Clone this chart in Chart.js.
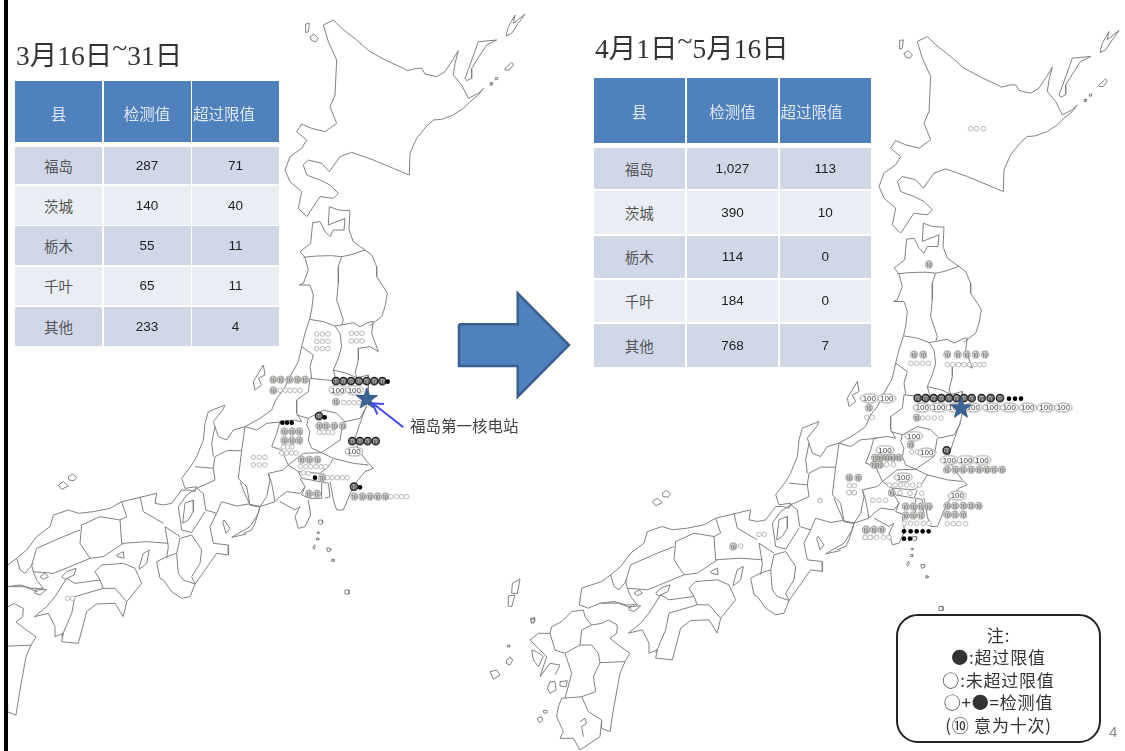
<!DOCTYPE html>
<html><head><meta charset="utf-8">
<script src="https://cdn.jsdelivr.net/npm/chart.js@4/dist/chart.umd.min.js"></script>
<style>
html,body{margin:0;padding:0;background:#fff;width:1125px;height:751px;overflow:hidden}
#page{position:relative;width:1125px;height:751px;filter:blur(.55px);font-family:"Noto Sans CJK SC",sans-serif;color:#444}
canvas{position:absolute;left:0;top:0}
.bar{position:absolute;left:4px;top:0;width:3.5px;height:751px;background:#000}
.title{position:absolute;font-family:"Liberation Serif","Noto Sans CJK SC",serif;font-size:27.5px;line-height:32px;color:#333;white-space:nowrap}
.title span{position:relative;top:-8px}
.cell{position:absolute;display:flex;align-items:center;justify-content:center;box-sizing:border-box;white-space:nowrap}
.head{background:#4f81bd;color:#dfe8f3;font-size:15.5px;padding-top:2px}
.wide{justify-content:flex-start;padding-left:1px}
.odd{background:#d0d8e8}.even{background:#e9edf4}
.lab{color:#555;font-size:14.5px}.num{font-family:"Liberation Sans",sans-serif;color:#222;font-size:13.5px}
.site{position:absolute;left:410px;top:414px;font-size:15.5px;line-height:22px;color:#444;white-space:nowrap}
.note{position:absolute;left:896px;top:614px;width:205px;height:129px;box-sizing:border-box;border:2px solid #222;border-radius:22px;background:#fff;text-align:center;font-size:17px;line-height:22.4px;letter-spacing:.8px;padding-top:8px;color:#333}
.pg{position:absolute;left:1109px;top:722px;font-family:"Liberation Sans",sans-serif;font-size:15px;line-height:20px;color:#888}
</style></head>
<body><div id="page"><canvas id="map" width="1125" height="751"></canvas><div class="bar"></div></div>
<script>
/* ---------- table content ---------- */
const tableHeader = ["县", "检测值", "超过限值"];
const prefectures = ["福岛", "茨城", "栃木", "千叶", "其他"];
const marchDetected = ["287", "140", "55", "65", "233"];
const marchExceeded = ["71", "40", "11", "11", "4"];
const aprilDetected = ["1,027", "390", "114", "184", "768"];
const aprilExceeded = ["113", "10", "0", "0", "7"];
const noteLines = ["注:", "●:超过限值", "○:未超过限值", "○+●=检测值", "(⑩ 意为十次)"];

/* ---------- map outlines, flat x,y lists, each group in its own survey frame ---------- */
const frameNorth = [270, 0], frameKanto = [240, 350], frameWest = [0, 380], frameKyushu = [-64, 473.5], frameOuter = [-114, 543.5];
const northLines = [
 [160,75,190,60,215,85,260,120,300,155,350,182,400,205,412,212,440,205,455,205,465,222,500,230,525,215,548,180,565,152,555,190,550,225,575,255,595,295,625,280,640,265,625,285,600,305,580,325,550,345,515,358,490,360,470,378,440,415,420,460,418,525,370,505,310,480,245,457,210,470,178,515,155,490,115,480,100,495,110,525,150,540,180,555,205,580,190,595,150,590,130,620,110,650,85,625,95,575,60,545,45,510,60,470,95,445,110,420,80,395,95,372,125,385,165,395,200,370,180,320,195,285,200,180,175,125,160,75],
 [107,72,118,70,115,95,107,98,107,72],
 [120,110,132,103,145,115,138,125,125,122,120,110],
 [585,235,600,195,625,125,680,120,650,135,630,165,605,205,605,235,590,242,585,235],
 [708,108,715,80,735,45,730,70,765,42,745,70,725,100,708,108],
 [705,205,725,187,730,195,718,210,705,210,705,205],
 [660,248,668,248,666,255,660,255,660,248],
 [676,233,684,233,682,239,676,239,676,233],
 [90,755,122,730,128,668,150,665,165,695,180,710,190,690,222,690,225,655,175,675,178,620,205,630,240,632,237,690,250,725,285,750],
 [100,772,140,768,185,767,215,770,240,765,285,750],
 [285,750,305,765,320,800,320,830,340,860,352,880,345,920,335,950,315,965,300,978],
 [215,770,205,800,205,850,200,900,220,960,215,975],
 [90,755,105,772,115,810,100,850,88,855,120,855,130,885,125,930,118,960,105,1000,95,1040,85,1085,60,1130],
 [118,958,160,965,195,978,210,1000,215,1040,205,1075,190,1110,198,1140],
 [195,978,215,975,250,968,270,980,300,965,310,965,305,1000,325,1055,300,1040,265,1045,265,1080,255,1120,265,1140],
 [95,1040,130,1065,120,1100,125,1135],
 [190,1110,230,1120,265,1135]
];
const kantoLines = [
 [40,95,70,45,75,75,55,85,65,105,45,120,40,95],
 [210,85,280,92,345,85,385,75,385,140,378,170,360,220,345,265,355,300,385,340,400,355,375,365,350,395,335,420,310,480,290,480,280,450,275,420,270,395],
 [210,85,205,125,170,150,170,190,185,215],
 [170,195,205,205,250,180,290,190,315,215,360,205,380,170],
 [205,205,200,225,210,245,205,270,215,295,245,308,300,270,310,215],
 [245,308,280,325,340,340,385,345],
 [185,215,160,210,120,215,110,250,95,290,125,300,145,345],
 [145,345,190,310,245,308],
 [145,345,175,365,240,370,265,350,280,325],
 [175,365,185,385,240,395,250,370],
 [85,370,130,360,145,345],
 [85,370,95,400,105,455,120,440,140,425,180,430,195,410,180,385],
 [195,410,185,435,210,445,245,445,245,395,265,400,270,440,255,445],
 [105,455,60,470,55,470,30,465,10,420,0,395],
 [60,470,45,520,35,540,10,550],
 [120,455,165,480,180,470,165,500,175,535,195,530,212,495,205,450]
];
const kantoIslands = [[236,510,246,510,248,520,240,524,234,518,236,510],[232,546,237,546,237,550,232,550,232,546],[230,564,236,564,236,570,230,570,230,564],[218,594,224,584,226,590,222,598,218,594],[260,594,270,594,272,602,264,606,260,594],[275,628,282,628,282,634,275,634,275,628]];
const westLines = [
 [870,-10,850,30,830,55,815,90,780,115,735,140,700,150,680,180,655,170,645,140,640,125,668,90,675,75,625,95,615,130,610,180,590,230,575,255,545,295,555,325,590,320,585,335,565,330,545,330,515,370,490,375,465,370,470,340,420,352,365,365,330,385,280,395,235,400,205,390,160,405,150,440,110,470,80,510,50,535,23,555,-37,575,-44,625,-17,635,18,620,73,620,113,635],
 [645,140,635,190,640,230],
 [585,260,640,265,645,230,680,212,725,212,735,140],
 [640,265,645,300,590,325],
 [735,140,770,150,800,130,850,125],
 [725,212,715,295,740,320,750,375,780,380,800,350,810,300,805,280],
 [650,400,665,365,710,378,745,372,780,380,775,400,750,440,695,472,740,462],
 [590,325,610,340,617,390,650,400],
 [590,325,560,345,535,380,545,450,575,458,615,395],
 [555,370,580,360,580,395,565,420,548,430,555,370],
 [650,400,630,440,640,490,685,495,685,525,650,520,615,570,585,612,575,590,600,550,605,510,575,465,540,475,530,520,535,580,550,600,585,612,570,650,545,655,515,635,490,600,480,595,470,545,500,530,530,520],
 [500,535,505,500,495,440,540,470],
 [490,430,430,395,420,350],
 [505,490,440,485,365,490,360,420,380,410,365,365],
 [360,420,300,410,245,435,240,490,270,535],
 [240,450,190,470,110,505,95,555,100,575],
 [370,490,310,530,270,535,210,560,160,580,100,575,110,600,130,625,95,625,60,615,20,620],
 [50,535,60,570,75,580,100,550],
 [103,710,140,680,165,650,200,595,225,610,300,600,285,575,305,555,370,550,405,565,425,610,380,665,370,710,345,670,290,672,260,695,235,790,185,785,190,760,165,770,165,740,145,700,103,710],
 [300,600,310,625],
 [185,770,215,700,225,650,310,625,345,625,380,665],
 [668,425,678,460,690,445,672,420,668,425],
 [418,560,430,520,448,510,440,550,418,568,418,560],
 [350,525,370,515,372,535,352,530,350,525],
 [205,290,218,282,230,292,222,302,207,300,205,290],
 [175,315,190,305,205,318,185,328,175,315],
 [120,590,135,580,145,590,130,598,120,590],
 [185,590,200,575,228,565,222,585,195,598,185,590],
 [105,630,140,628,120,645,105,640,105,630]
];
const kyushuLines = [
 [0,450,25,430,60,430,65,410,95,395,125,365,160,360,165,380,185,405,215,400,235,390,262,405,260,430,240,445,265,465,300,490,285,515,270,550,250,660,240,725,215,715,215,690,175,665,155,620,135,622,95,625,85,650,80,680,100,725,90,745,130,745,150,780,210,740,215,690],
 [185,405,155,420,150,465,185,465,205,490,210,518,285,515],
 [150,465,105,490,125,550,105,625],
 [210,518,190,560,197,605,155,620],
 [60,430,75,480,105,490],
 [0,450,25,475,50,500,30,560,60,520,90,525,75,555],
 [150,695,165,685,170,700,155,710,160,740],
 [5,480,20,485,40,500,25,530,10,510,5,480],
 [60,575,75,575,78,600,60,610,52,595,60,575],
 [90,575,112,572,108,590,90,588,90,575],
 [22,685,35,680,38,692,28,698,22,685],
 [40,662,50,660,52,668,42,670,40,662],
 [2,385,12,383,14,395,4,400,2,385]
];
const outerLines = [
 [97,70,120,57,112,100,95,100,97,70],
 [85,108,105,105,95,140,85,138,85,108],
 [150,180,165,175,160,190,150,180],
 [30,335,50,330,60,345,40,358,30,335],
 [80,300,90,290,98,300,90,315,78,310,80,300],
 [82,255,89,255,89,261,82,261,82,255]
];
const farIsland = [[345,590,349,590,349,594,345,594,345,590]];

/* ---------- marks on the left (16-31 March) panel ---------- */
const marchOpenNorth = [140,1002,157,1002,174,1002,140,1024,157,1024,174,1024,140,1046,157,1046,174,1046,244,1000,260,1000,276,1000,244,1023,260,1023,276,1023];
const marchOpenKanto = [120,121,136,121,150,121,165,121,180,121,312,158,327,158,342,158,357,158,370,158,238,247,252,247,265,247,278,247,130,291,143,291,156,291,125,309,140,309,155,309,168,309,40,322,58,322,75,322,40,345,58,345,75,345,182,350,198,350,212,350,228,350,243,350,256,350,190,368,205,370,262,383,276,383,292,383,307,383,322,383,452,440,470,440,485,440,500,440];
const marchOpenWest = [203,655,218,655];
const marchTens = [100,88,122,88,148,88,172,88,195,88,100,120,288,155,238,227,258,227,283,227,308,227,133,243,156,243,178,243,133,270,156,270,178,270,185,328,208,328,232,328,247,381,207,430,231,430,343,438,367,438,390,438,413,438,436,438];
const marchTensDark = [288,93,310,93,333,93,357,93,380,93,403,93,427,93,237,198,337,273,360,273,383,273,407,273,342,410];
const marchSolid = [443,95,254,202,127,218,141,218,155,218,225,383,360,412];
const marchHundreds = [293,120,343,120,342,305];
const starMarch = [366.7, 399];

/* ---------- marks on the right (1 April - 16 May) panel, screen frames ---------- */
const frameRightKanto = [800, 330], frameRightNorth = [870, 20], frameRightWest = [530, 490];
const aprilOpenKanto = [333,100,350,100,367,100,385,100,442,104,458,104,475,104,492,104,508,104,525,104,540,104,552,104,200,262,217,262,367,264,384,264,403,264,423,264,335,366,352,366,260,404,280,404,148,467,163,467,148,488,163,488,60,511,268,465,285,465,302,465,320,465,338,465,358,465,300,488,330,490,365,490,218,511,237,511,257,511,313,580,332,580,350,580,370,580,387,580,442,581,460,581,477,581,497,581,195,622,213,622,230,622,250,622,267,622];
const aprilOpenNorth = [302,326,320,326,340,326];
const aprilOpenWest = [632,168,687,133,703,133,870,32,957,8,973,8,1005,142,1020,142];
const aprilTens = [342,73,370,73,442,72,473,72,500,72,527,72,555,72,207,233,350,262,332,343,441,418,466,418,489,418,513,418,537,418,560,418,582,418,606,418,225,382,242,382,260,382,278,382,297,382,222,404,240,404,148,442,175,442,275,488,317,528,340,528,363,528,387,528,317,555,340,555,363,555,442,527,465,527,490,527,513,527,536,527,442,553,465,553,490,553,199,598,222,598,245,598,387,-198];
const aprilTensWest = [610,168,1008,118];
const aprilTensDark = [353,204,377,204,401,204,424,204,447,204,470,204,492,204,515,204,545,204,572,204,600,204,440,361];
const aprilSolid = [627,206,645,206,663,206,312,604,332,604,350,604,368,604,386,604,312,626,330,626];
const aprilHundreds = [208,205,260,205,367,233,416,233,465,233,520,233,575,233,628,233,683,233,738,233,790,233,341,318,380,368,448,390,497,390,546,390,255,360,310,442,472,497];
const starApril = [961, 408.3];

/* ---------- big arrow and plant pointer, in scale units ---------- */
const panelArrow = [459,324.3,517.7,324.3,517.7,293.3,569,345,517.7,396.7,517.7,366,459,366,459,324.3];
const plantPointer = [403.3,427.3,372.7,403.3];
const plantPointerHead = [384,404,372.7,403.3,377.3,414.3];

const RIGHT_SHIFT = [594, 16.5];

function place(list, frame, zoom, shift) {
  const pts = [], s = shift || [0, 0];
  for (let i = 0; i < list.length; i += 2) pts.push({x: frame[0] + list[i] / zoom + s[0], y: frame[1] + list[i + 1] / zoom + s[1]});
  return pts;
}

function ovalSprite() {
  const c = document.createElement('canvas'); c.width = 20; c.height = 11;
  const g = c.getContext('2d'); g.strokeStyle = '#999'; g.fillStyle = '#fff'; g.lineWidth = 1;
  g.beginPath(); g.ellipse(10, 5.5, 9, 4.5, 0, 0, 7); g.fill(); g.stroke(); return c;
}
function starSprite() {
  const c = document.createElement('canvas'); c.width = c.height = 22;
  const g = c.getContext('2d'); g.fillStyle = '#3a6396'; g.strokeStyle = '#2f5380'; g.beginPath();
  for (let i = 0; i < 10; i++) { const r = i % 2 ? 4.4 : 11, a = -Math.PI / 2 + i * Math.PI / 5; g.lineTo(11 + r * Math.cos(a), 11 + r * Math.sin(a)); }
  g.closePath(); g.fill(); g.stroke(); return c;
}

const oval = ovalSprite(), star = starSprite();
const datasets = [];
const noClip = {left: 0, top: 0, right: 0, bottom: 0}, leftClip = {left: -8, top: 0, right: 0, bottom: 0};
function line(pts, color, width, clip) {
  datasets.push({type: 'scatter', showLine: true, data: pts, borderColor: color, borderWidth: width, pointRadius: 0, fill: false, tension: 0, clip: clip || noClip});
}
function outlines(shift, clip) {
  const col = '#808080';
  [[northLines, frameNorth], [kantoLines, frameKanto], [kantoIslands, frameKanto], [westLines, frameWest], [kyushuLines, frameKyushu], [outerLines, frameOuter]]
    .forEach(([group, frame]) => group.forEach(l => line(place(l, frame, 3, shift), col, 1, clip)));
  farIsland.forEach(l => line(place(l, [0, 0], 1, shift), col, 1, clip));
}
outlines(null, leftClip);
outlines(RIGHT_SHIFT, noClip);

function marks(pts, kind) {
  const base = {type: 'scatter', data: pts, showLine: false, clip: noClip};
  if (kind === 'open') datasets.push({...base, pointStyle: 'circle', pointRadius: 2.3, borderWidth: 0.8, borderColor: '#a8a8a8', backgroundColor: '#fff'});
  if (kind === 'solid') datasets.push({...base, pointStyle: 'circle', pointRadius: 2.3, borderWidth: 0, backgroundColor: '#000'});
  if (kind === 'tens') datasets.push({...base, glyph: '⑩', glyphFont: '8px "Noto Sans CJK SC"', glyphColor: '#666', pointStyle: 'circle', pointRadius: 3.5, borderWidth: 0.8, borderColor: '#bbb', backgroundColor: '#d8d6d0'});
  if (kind === 'dark') datasets.push({...base, glyph: '⑩', glyphFont: '8px "Noto Sans CJK SC"', glyphColor: '#444', pointStyle: 'circle', pointRadius: 3.6, borderWidth: 1.5, borderColor: '#222', backgroundColor: '#aaa'});
  if (kind === 'hundred') datasets.push({...base, glyph: '100', glyphFont: '8px "Liberation Sans"', glyphColor: '#444', pointStyle: oval, pointRadius: 6});
}
marks(place(marchOpenNorth, frameNorth, 3), 'open');
marks(place(marchOpenKanto, frameKanto, 3), 'open');
marks(place(marchOpenWest, frameWest, 3), 'open');
marks(place(marchTens, frameKanto, 3), 'tens');
marks(place(marchTensDark, frameKanto, 3), 'dark');
marks(place(marchHundreds, frameKanto, 3), 'hundred');
marks(place(marchSolid, frameKanto, 3), 'solid');
marks(place(aprilOpenKanto, frameRightKanto, 3), 'open');
marks(place(aprilOpenNorth, frameRightNorth, 3), 'open');
marks(place(aprilOpenWest, frameRightWest, 3), 'open');
marks(place(aprilTens, frameRightKanto, 3), 'tens');
marks(place(aprilTensWest, frameRightWest, 3), 'tens');
marks(place(aprilTensDark, frameRightKanto, 3), 'dark');
marks(place(aprilHundreds, frameRightKanto, 3), 'hundred');
marks(place(aprilSolid, frameRightKanto, 3), 'solid');

datasets.push({type: 'scatter', data: [{x: starMarch[0], y: starMarch[1]}, {x: starApril[0], y: starApril[1]}], pointStyle: star, pointRadius: 11, clip: noClip});
line(place(plantPointer, [0, 0], 1), '#4646f5', 2);
line(place(plantPointerHead, [0, 0], 1), '#4646f5', 2);
datasets.push({type: 'scatter', showLine: true, data: place(panelArrow, [0, 0], 1), borderColor: '#3a6090', borderWidth: 2.5, backgroundColor: '#4f81bd', fill: 'shape', pointRadius: 0, tension: 0, clip: noClip});
datasets.forEach((d, i) => d.order = datasets.length - i);

const glyphPlugin = {
  id: 'glyphs',
  afterDatasetDraw(chart, args) {
    const ds = chart.data.datasets[args.index];
    if (!ds.glyph) return;
    const g = chart.ctx; g.save();
    g.font = ds.glyphFont; g.fillStyle = ds.glyphColor; g.textAlign = 'center'; g.textBaseline = 'middle';
    args.meta.data.forEach(p => g.fillText(ds.glyph, p.x, p.y + 0.5));
    g.restore();
  }
};

new Chart(document.getElementById('map'), {
  type: 'scatter',
  data: {datasets},
  plugins: [glyphPlugin],
  options: {
    responsive: false, animation: false, events: [],
    layout: {padding: 0, autoPadding: false},
    plugins: {legend: {display: false}, tooltip: {enabled: false}},
    scales: {
      x: {type: 'linear', min: 0, max: 1125, display: false},
      y: {type: 'linear', min: 0, max: 751, reverse: true, display: false}
    }
  }
});

/* ---------- HTML overlays ---------- */
const page = document.getElementById('page');
function add(cls, style, text) {
  const d = document.createElement('div'); d.className = cls; Object.assign(d.style, style); d.textContent = text; page.appendChild(d); return d;
}
function box(x0, x1, y0, y1) { return {left: x0 + 'px', width: (x1 - x0) + 'px', top: y0 + 'px', height: (y1 - y0) + 'px'}; }
function table(cols, headY, rows, detected, exceeded) {
  tableHeader.forEach((t, c) => add('cell head' + (c === 2 ? ' wide' : ''), box(cols[c][0], cols[c][1], headY[0], headY[1]), t));
  prefectures.forEach((name, r) => {
    const band = r % 2 ? 'even' : 'odd';
    [[name, 'lab'], [detected[r], 'num'], [exceeded[r], 'num']].forEach(([t, k], c) =>
      add('cell ' + band + ' ' + k, box(cols[c][0], cols[c][1], rows[r][0], rows[r][1]), t));
  });
}
table([[15, 102], [103.5, 190.5], [192, 279]], [81, 142], [[146.5, 184], [185.5, 224.5], [226, 265], [266.5, 305], [307, 346]], marchDetected, marchExceeded);
table([[593.5, 685], [687, 778], [779.5, 871]], [77.5, 143], [[148, 189], [191, 234], [235.5, 277.5], [279.5, 321.5], [323.5, 366.5]], aprilDetected, aprilExceeded);

function title(x, y, before, after) {
  const d = add('title', {left: x + 'px', top: y + 'px'}, before);
  const s = document.createElement('span'); s.textContent = '~'; d.appendChild(s);
  d.appendChild(document.createTextNode(after));
}
title(16, 40, '3月16日', '31日');
title(595, 33, '4月1日', '5月16日');
add('site', {}, '福岛第一核电站');
const note = add('note', {}, '');
noteLines.forEach(t => { const l = document.createElement('div'); l.textContent = t; note.appendChild(l); });
add('pg', {}, '4');
</script>
</body></html>
